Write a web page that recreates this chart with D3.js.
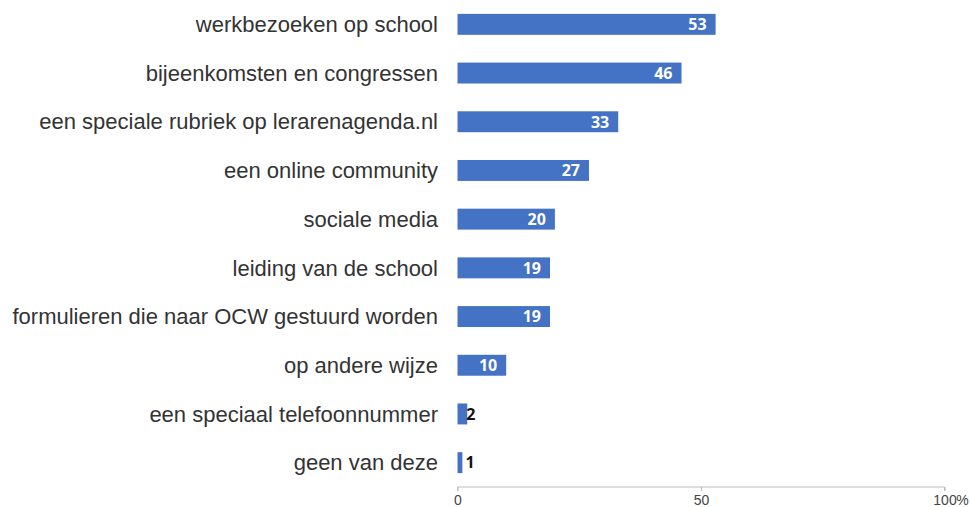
<!DOCTYPE html>
<html><head><meta charset="utf-8">
<script src="https://cdn.jsdelivr.net/npm/d3@7"></script>
<style>body{margin:0;background:#fff;}svg{display:block;}</style>
</head><body>
<svg id="c" width="970" height="507"></svg>
<script>
const categories = [
  "werkbezoeken op school",
  "bijeenkomsten en congressen",
  "een speciale rubriek op lerarenagenda.nl",
  "een online community",
  "sociale media",
  "leiding van de school",
  "formulieren die naar OCW gestuurd worden",
  "op andere wijze",
  "een speciaal telefoonnummer",
  "geen van deze"
];
const values = [53, 46, 33, 27, 20, 19, 19, 10, 2, 1];
const tickValues = [0, 50, 100];
const tickLabels = ["0", "50", "100"];

const svg = d3.select("#c");
const x = d3.scaleLinear().domain([0, 100]).range([457.5, 944.5]);
const y = d3.scaleBand().domain(categories).range([0, 487]).paddingInner(0.57).paddingOuter(0.285);

// axis
const axis = d3.axisBottom(x).tickValues(tickValues).tickFormat((d,i)=>tickLabels[i]).tickSize(4).tickPadding(4);
const ax = svg.append("g").attr("transform","translate(0,487)").call(axis);
ax.select(".domain").attr("stroke","#bbb").attr("d", `M${x(0)},4V0H${x(100)}V4`);
ax.selectAll(".tick line").attr("stroke","#bbb");
ax.selectAll(".tick text").attr("font-family","Liberation Sans, Arial, sans-serif").attr("font-size",14).attr("fill","#444");
// percent sign after last tick label
const lastT = ax.selectAll(".tick text").filter(d=>d===100);
const bw = lastT.node().getComputedTextLength();
ax.append("text").attr("x", x(100)+bw/2).attr("y", lastT.attr("y")).attr("dy", lastT.attr("dy"))
  .attr("text-anchor","start")
  .attr("font-family","Liberation Sans, Arial, sans-serif").attr("font-size",14).attr("fill","#444").text("%");

// category labels
svg.append("g").selectAll("text").data(categories).join("text")
  .attr("x", 438).attr("y", d=>y(d)+y.bandwidth()/2).attr("dy","0.35em")
  .attr("text-anchor","end")
  .attr("font-family","Liberation Sans, Arial, sans-serif").attr("font-size",22).attr("fill","#333")
  .text(d=>d);

// bars
svg.append("g").selectAll("rect").data(values).join("rect")
  .attr("x", x(0)).attr("y",(d,i)=>y(categories[i]))
  .attr("width", d=>x(d)-x(0)).attr("height", y.bandwidth())
  .attr("fill","#4472C4");

// value labels
svg.append("g").selectAll("text").data(values).join("text")
  .attr("x", d=> d>=5 ? x(d)-9 : Math.max(x(d)-1, x(0)+8))
  .attr("y",(d,i)=>y(categories[i])+y.bandwidth()/2).attr("dy","0.36em")
  .attr("text-anchor", d=> d>=5 ? "end" : "start")
  .attr("font-family","Open Sans, sans-serif").attr("font-weight","bold").attr("font-size",16)
  .attr("fill", d=> d>=5 ? "#fff" : "#111")
  .text(d=>d);
</script>
</body></html>
